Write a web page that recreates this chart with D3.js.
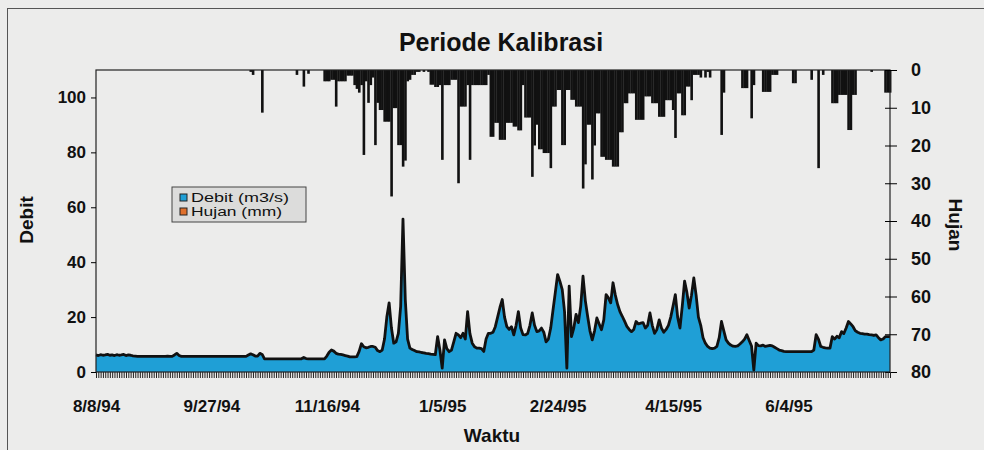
<!DOCTYPE html>
<html lang="en">
<head>
<meta charset="utf-8">
<title>Periode Kalibrasi</title>
<script src="https://d3js.org/d3.v7.min.js"></script>
<style>
  body { margin: 0; background: #ececeb; }
  text { font-family: "Liberation Sans", Arial, sans-serif; font-weight: bold; fill: #111; }
  .legend text { font-weight: normal; }
</style>
</head>
<body>
<script>
// daily series starting 8/8/94
var startDate = "8/8/94";
var tickLabels = ["8/8/94", "9/27/94", "11/16/94", "1/5/95", "2/24/95", "4/15/95", "6/4/95"];
var legendItems = ["Debit (m3/s)", "Hujan (mm)"];
var legendColors = ["#1f9fd6", "#e0702c"];

// Debit (m3/s), one value per day
var debit = [
  6.2, 6.0, 6.3, 6.1, 6.2, 6.4, 6.1, 6.2, 6.0, 6.3,
  6.1, 6.2, 6.4, 6.0, 6.2, 6.1, 5.9, 5.8, 5.7, 5.7,
  5.7, 5.7, 5.7, 5.7, 5.7, 5.7, 5.7, 5.7, 5.7, 5.7,
  5.7, 5.8, 5.7, 5.7, 6.2, 6.8, 6.0, 5.7, 5.7, 5.7,
  5.7, 5.7, 5.7, 5.7, 5.7, 5.7, 5.7, 5.7, 5.7, 5.7,
  5.7, 5.7, 5.7, 5.7, 5.7, 5.7, 5.7, 5.7, 5.7, 5.7,
  5.7, 5.7, 5.7, 5.7, 5.7, 5.7, 6.2, 6.6, 6.3, 5.8,
  5.8, 6.8, 6.4, 4.8, 4.8, 4.8, 4.8, 4.8, 4.8, 4.8,
  4.8, 4.8, 4.8, 4.8, 4.8, 4.8, 4.8, 4.8, 4.8, 4.8,
  5.3, 4.9, 4.8, 4.8, 4.8, 4.8, 4.8, 4.8, 4.8, 4.8,
  5.8, 7.2, 8.0, 7.6, 6.8, 6.5, 6.4, 6.2, 6.0, 5.8,
  5.5, 5.5, 5.5, 5.6, 7.5, 10.3, 9.2, 8.8, 9.0, 9.3,
  9.3, 9.0, 7.8, 7.4, 8.0, 12, 20, 25.2, 16, 10.5,
  11, 14.1, 24, 55.7, 26.4, 12, 8.7, 8.2, 7.8, 7.4,
  7.3, 7.1, 7.0, 6.8, 6.7, 6.5, 6.4, 6.3, 12.9, 8,
  1.4, 11.7, 8.5, 7.4, 8, 11, 14.1, 13.5, 12.5, 14.1,
  12, 22, 14, 10.5, 9.2, 8.7, 8.7, 8.5, 7.5, 12,
  14.1, 14.1, 14.5, 16.5, 20, 23.5, 26.4, 20, 16.5, 15.5,
  16.5, 13.5, 17, 22, 16, 13.6, 13.5, 14, 17, 21.5,
  17, 14.7, 15, 16, 14.5, 11, 12, 16, 22.6, 29,
  35.5, 33, 30, 22, 1.4, 31.3, 12.9, 16, 21, 18,
  24, 34.9, 26, 20.3, 15, 11.7, 15, 19.7, 17.5, 15.4,
  19, 28.2, 27, 25.2, 32.5, 28, 24.6, 22, 20.3, 18.5,
  16.6, 15.5, 14.7, 15.5, 18.4, 17.5, 17.8, 18, 16, 17,
  21.5, 17, 14.1, 15.5, 19, 16, 14.5, 15.5, 17, 20,
  24, 28.2, 20, 16, 24, 33.1, 29, 23.3, 28, 34.3,
  28, 20, 17, 12.5, 10.5, 9.3, 8.7, 8.5, 8.7, 9.3,
  12.5, 18.4, 15, 11.7, 10.5, 9.8, 9.4, 9.3, 9.5, 10.2,
  11, 12, 13.6, 11.5, 9.5, 0.7, 10.5, 9.6, 9.5, 9.8,
  9.3, 9.5, 9.7, 9.5, 9, 8.5, 8, 7.8, 7.5, 7.4,
  7.4, 7.4, 7.4, 7.4, 7.4, 7.4, 7.4, 7.4, 7.4, 7.4,
  7.4, 8, 13.6, 12, 9.3, 9, 8.8, 8.7, 8.7, 12.9,
  12, 13, 12.5, 14.7, 14, 16, 18.4, 17.5, 16.5, 15,
  14.5, 14.1, 14, 13.8, 13.8, 13.6, 13.5, 13.3, 13.5, 12.5,
  11.7, 12, 12.9, 12.9, 12.9
];

// Hujan (mm), one value per day
var hujan = [
  0, 0, 0, 0, 0, 0, 0, 0, 0, 0,
  0, 0, 0, 0, 0, 0, 0, 0, 0, 0,
  0, 0, 0, 0, 0, 0, 0, 0, 0, 0,
  0, 0, 0, 0, 0, 0, 0, 0, 0, 0,
  0, 0, 0, 0, 0, 0, 0, 0, 0, 0,
  0, 0, 0, 0, 0, 0, 0, 0, 0, 0,
  0, 0, 0, 0, 0, 0, 0, 0.5, 1.3, 0,
  0, 0, 11.3, 0, 0, 0, 0, 0, 0, 0,
  0, 0, 0, 0, 0, 0, 0, 1.3, 0, 0,
  4.4, 0, 1, 0, 0, 0, 0, 0, 0, 3,
  3, 3, 2.6, 2.6, 9.7, 3, 3, 3, 3, 1.5,
  1.5, 1.5, 4, 5, 6, 4, 22.5, 3, 8.7, 4,
  2, 19.9, 8.7, 10.6, 10.6, 13.7, 13.7, 13.7, 33.5, 10.1,
  10.1, 19.9, 19.9, 25.6, 24, 3, 2.6, 1.3, 1.3, 0.5,
  0.5, 0, 0.5, 0, 0.5, 3.9, 3.9, 4.5, 4.5, 4,
  23.8, 4, 4, 4, 2.6, 2.6, 2.6, 30, 9.7, 9.7,
  9.7, 4, 23.8, 4, 4, 4, 4, 4, 4, 4,
  1.3, 17.7, 17.7, 14, 14, 18.5, 18.5, 18.5, 14, 14,
  14, 15, 15, 16, 16, 4, 12.6, 12.6, 12.6, 28.3,
  20, 14.5, 21, 21, 22, 22, 22, 26, 9.7, 9.7,
  5.3, 5.3, 19.9, 19.9, 5.3, 5.3, 7.9, 7.9, 9.7, 9.7,
  9.7, 31.4, 25, 14.5, 14.5, 29, 20, 11.5, 11.5, 23,
  23, 23.8, 23.8, 23.8, 25.6, 25.6, 25.6, 16.5, 16.5, 8.8,
  8.8, 6.2, 6.2, 6.2, 13.2, 13.2, 13.2, 13.2, 7, 7,
  7, 8.8, 8.8, 8.8, 12.4, 12.4, 12.4, 8, 8, 8,
  10.6, 18, 6.2, 6.2, 12, 12, 4.4, 4.4, 8, 1.3,
  1.3, 1.3, 2, 0, 2, 0.5, 2, 0, 0, 0,
  0, 17.2, 6, 0, 0, 0, 0, 0, 0, 0,
  4.8, 4.8, 4.8, 0, 12.8, 4, 0, 0, 0, 5.8,
  5.8, 5.8, 5.8, 1.3, 1.3, 1.3, 0, 0, 0, 0,
  0, 0, 3.5, 3.5, 0, 0, 0, 0, 0, 0,
  2.6, 0, 0, 26, 0, 1.3, 0, 0, 0, 8.8,
  8.8, 8.8, 6.6, 6.6, 6.6, 6.6, 15.9, 15.9, 6.6, 6.6,
  0, 0, 0, 0, 0, 0, 0.5, 0, 0, 0,
  0, 0, 6, 6, 6
];

var width = 984, height = 450;
var plotLeft = 96, plotRight = 890, plotTop = 70, plotBottom = 372;

var parse = d3.timeParse("%m/%d/%y");
var start = parse(startDate);
var dates = debit.map(function(d, i) { return d3.timeDay.offset(start, i); });
var rows = dates.map(function(d, i) { return {date: d, q: debit[i], p: hujan[i]}; });

var svg = d3.select("body").append("svg")
  .attr("width", width)
  .attr("height", height);

svg.append("rect")
  .attr("width", width).attr("height", height)
  .attr("fill", "#ececeb");

// outer chart frame
svg.append("rect")
  .attr("x", 7.5).attr("y", 8.5)
  .attr("width", 1000).attr("height", 500)
  .attr("fill", "none").attr("stroke", "#555");

var x = d3.scaleTime()
  .domain([dates[0], dates[dates.length - 1]])
  .range([plotLeft, plotRight]);

var y = d3.scaleLinear().domain([0, 110]).range([plotBottom, plotTop]);
var yR = d3.scaleLinear().domain([0, 80]).range([plotTop, plotBottom]);

var g = svg.append("g");

var area = d3.area()
  .x(function(d) { return x(d.date); })
  .y0(y(0))
  .y1(function(d) { return y(d.q); });

var line = d3.line()
  .x(function(d) { return x(d.date); })
  .y(function(d) { return y(d.q); });

g.append("path")
  .datum(rows)
  .attr("d", area)
  .attr("fill", legendColors[0]);

g.append("path")
  .datum(rows)
  .attr("d", line)
  .attr("fill", "none")
  .attr("stroke", "#111")
  .attr("stroke-width", 2.8)
  .attr("stroke-linejoin", "round");

var barW = x(dates[1]) - x(dates[0]);

g.selectAll(".bar")
  .data(rows.filter(function(d) { return d.p > 0; }))
  .enter()
  .append("rect")
  .attr("class", "bar")
  .attr("x", function(d) { return Math.max(plotLeft, x(d.date) - barW / 2); })
  .attr("y", yR(0))
  .attr("width", barW + 0.3)
  .attr("height", function(d) { return yR(d.p) - yR(0); })
  .attr("fill", "#111");

// plot frame
svg.append("rect")
  .attr("x", plotLeft).attr("y", plotTop)
  .attr("width", plotRight - plotLeft).attr("height", plotBottom - plotTop)
  .attr("fill", "none").attr("stroke", "#222").attr("stroke-width", 1.2);

// left axis
var yAxis = svg.append("g")
  .attr("transform", "translate(" + plotLeft + ",0)")
  .call(d3.axisLeft(y).tickValues([0, 20, 40, 60, 80, 100]).tickSize(5).tickPadding(5));
yAxis.select(".domain").remove();
yAxis.selectAll("text").style("font-size", "17px");

// right axis, ticks across the line
var yrAxis = svg.append("g")
  .attr("transform", "translate(" + plotRight + ",0)")
  .call(d3.axisRight(yR).tickValues(d3.range(0, 81, 10)).tickSize(7).tickPadding(14));
yrAxis.select(".domain").remove();
yrAxis.selectAll(".tick line").attr("x1", -5);
yrAxis.selectAll("text").style("font-size", "18px");

// day ticks along the bottom
var xTicks = svg.append("g")
  .attr("transform", "translate(0," + plotBottom + ")")
  .call(d3.axisBottom(x).tickValues(dates).tickSize(6).tickFormat(""));
xTicks.select(".domain").remove();
xTicks.selectAll(".tick line").attr("stroke", "#222").attr("stroke-width", 1);

var labelDates = tickLabels.map(parse);
var xLabels = svg.append("g")
  .attr("transform", "translate(0," + plotBottom + ")")
  .call(d3.axisBottom(x).tickValues(labelDates).tickSize(0).tickPadding(28)
    .tickFormat(function(d, i) { return tickLabels[i]; }));
xLabels.select(".domain").remove();
xLabels.selectAll("text").style("font-size", "17px");

// titles
svg.append("text")
  .attr("x", 501).attr("y", 51)
  .attr("text-anchor", "middle")
  .style("font-size", "25px")
  .text("Periode Kalibrasi");

svg.append("text")
  .attr("x", 492).attr("y", 442)
  .attr("text-anchor", "middle")
  .style("font-size", "19px")
  .text("Waktu");

svg.append("text")
  .attr("transform", "translate(33,220) rotate(-90)")
  .attr("text-anchor", "middle")
  .style("font-size", "19px")
  .text("Debit");

svg.append("text")
  .attr("transform", "translate(949,225) rotate(90)")
  .attr("text-anchor", "middle")
  .style("font-size", "19px")
  .text("Hujan");

// legend
var legend = svg.append("g").attr("class", "legend")
  .attr("transform", "translate(172,187)");

legend.append("rect")
  .attr("width", 134).attr("height", 35)
  .attr("fill", "#dcdcdb").attr("stroke", "#444");

legendItems.forEach(function(name, i) {
  legend.append("rect")
    .attr("x", 8).attr("y", 7 + i * 14)
    .attr("width", 7).attr("height", 7)
    .attr("fill", legendColors[i]).attr("stroke", "#222");
  legend.append("text")
    .attr("x", 19).attr("y", 15 + i * 14)
    .style("font-size", "12px")
    .attr("textLength", i === 0 ? 98 : 91)
    .attr("lengthAdjust", "spacingAndGlyphs")
    .text(name);
});
</script>
</body>
</html>
